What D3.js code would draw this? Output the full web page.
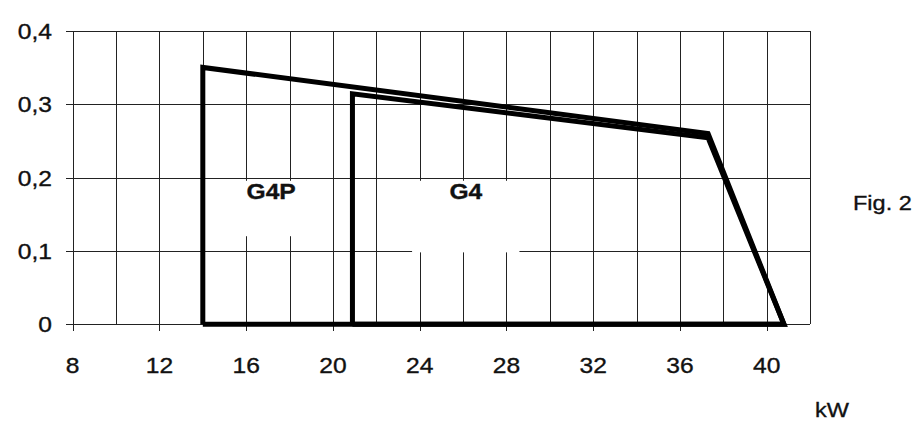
<!DOCTYPE html>
<html><head><meta charset="utf-8">
<script src="https://cdn.jsdelivr.net/npm/d3@7"></script>
<style>
html,body{margin:0;padding:0;background:#fff;}
svg{display:block;}
text{font-family:"Liberation Sans",Arial,Helvetica,sans-serif;fill:#111;stroke:#111;stroke-width:0.35px;}
</style></head>
<body><svg id="c" width="921" height="428"></svg>
<script>
// ---- data ----
const xTickLabels = [8, 12, 16, 20, 24, 28, 32, 36, 40];
const xGrid = [8,10,12,14,16,18,20,22,24,26,28,30,32,34,36,38,40,42];
const yTicks = [0, 0.1, 0.2, 0.3, 0.4];
const seriesNames = ["G4P", "G4"];
const g4pKw  = [14, 14, 37.3, 40.8, 14];
const g4pVal = [0, 0.35, 0.260, 0, 0];
const g4Kw   = [20.9, 20.9, 37.3, 40.8, 20.9];
const g4Val  = [0, 0.314, 0.254, 0, 0];
const labelKw = [17.15, 26.13];
const labelVal = [0.171, 0.171];
const maskX0 = [15.7, 23.65], maskX1 = [18.5, 28.6];
const maskY0 = [0.12, 0.098], maskY1 = [0.1955, 0.1955];

// ---- layout ----
const L = 72.7, R = 810, T = 30.7, B = 324.3;
const svg = d3.select("#c");
const x = d3.scaleLinear().domain([8, 42]).range([L, R]);
const y = d3.scaleLinear().domain([0, 0.4]).range([B, T]);
const fmt = v => String(v).replace(".", ",");
const sx = 1.12;

function txt(g, s, px, py, anchor, size, weight) {
  return g.append("text").attr("transform", `translate(${px},${py}) scale(${sx},1)`)
    .attr("text-anchor", anchor).style("font-size", size + "px")
    .style("font-weight", weight || "normal").text(s);
}

// grid
const grid = svg.append("g").attr("stroke", "#222").attr("stroke-width", 1).attr("shape-rendering", "crispEdges");
grid.selectAll(".v").data(xGrid).join("line")
  .attr("x1", d => Math.round(x(d)) + 0.5).attr("x2", d => Math.round(x(d)) + 0.5)
  .attr("y1", T).attr("y2", d => xTickLabels.includes(d) ? B + 7 : B);
grid.selectAll(".h").data(yTicks).join("line")
  .attr("y1", d => Math.round(y(d)) + 0.5).attr("y2", d => Math.round(y(d)) + 0.5)
  .attr("x1", L - 7).attr("x2", R);

// label masks
svg.append("g").selectAll("rect").data(maskX0).join("rect")
  .attr("x", (d, i) => x(d)).attr("width", (d, i) => x(maskX1[i]) - x(d))
  .attr("y", (d, i) => y(maskY1[i])).attr("height", (d, i) => y(maskY0[i]) - y(maskY1[i]))
  .attr("fill", "#fff");

// tick labels
const tl = svg.append("g");
xTickLabels.forEach(v => txt(tl, fmt(v), x(v), 373, "middle", 22));
yTicks.forEach(v => txt(tl, fmt(v), 52, y(v) + 8, "end", 22));

// series
const line = d3.line().x(d => x(d[0])).y(d => y(d[1]));
const series = [d3.zip(g4pKw, g4pVal), d3.zip(g4Kw, g4Val)];
svg.append("g").selectAll("path").data(series).join("path")
  .attr("d", line).attr("fill", "none").attr("stroke", "#000")
  .attr("stroke-width", 5).attr("stroke-linejoin", "miter");

// labels
seriesNames.forEach((s, i) => txt(svg, s, x(labelKw[i]), y(labelVal[i]), "middle", 22, "bold"));
txt(svg, "Fig. 2", 853, 210, "start", 21);
txt(svg, "kW", 815, 417, "start", 21);
</script></body></html>
